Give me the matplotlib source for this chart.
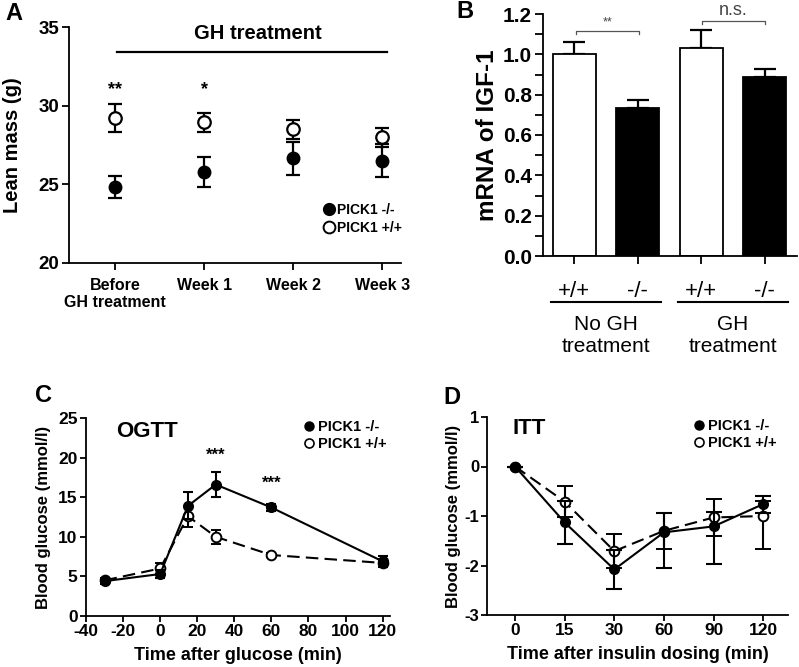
import matplotlib
matplotlib.use("Agg")
import matplotlib.pyplot as plt
from matplotlib.lines import Line2D
from matplotlib.ticker import MultipleLocator

plt.rcParams['font.family'] = ['Liberation Sans', 'DejaVu Sans']
plt.rcParams['font.weight'] = 'bold'
plt.rcParams['axes.labelweight'] = 'bold'
plt.rcParams['axes.unicode_minus'] = False
plt.rcParams['axes.linewidth'] = 1.3

# ---- data ----
# panel A: lean mass
a_labels = ["Before\nGH treatment", "Week 1", "Week 2", "Week 3"]
a_wt = [29.2, 28.95, 28.5, 28.0]
a_wt_err = [0.9, 0.6, 0.6, 0.6]
a_ko = [24.8, 25.8, 26.65, 26.5]
a_ko_err = [0.7, 0.95, 1.05, 1.05]
a_stars = ["**", "*", "", ""]

# panel B: IGF-1 mRNA
b_labels = ["+/+", "-/-", "+/+", "-/-"]
b_vals = [1.0, 0.735, 1.03, 0.89]
b_err = [0.06, 0.04, 0.09, 0.035]
b_colors = ["white", "black", "white", "black"]
b_groups = ["No GH\ntreatment", "GH\ntreatment"]

# panel C: OGTT
c_time = [-30, 0, 15, 30, 60, 120]
c_ko = [4.4, 5.3, 13.9, 16.6, 13.7, 6.9]
c_ko_err = [0.3, 0.5, 1.7, 1.6, 0.5, 0.7]
c_wt = [4.5, 6.0, 12.6, 10.0, 7.7, 6.7]
c_wt_err = [0.3, 0.7, 1.3, 0.9, 0.3, 0.5]

# panel D: ITT
d_labels = ["0", "15", "30", "60", "90", "120"]
d_ko = [0, -1.13, -2.08, -1.33, -1.21, -0.76]
d_ko_lo = [0, 0.44, 0.40, 0.73, 0.75, 0.17]
d_ko_hi = [0, 0.44, 0.40, 0.40, 0.30, 0.17]
d_wt = [0, -0.71, -1.71, -1.30, -1.03, -1.00]
d_wt_lo = [0, 0.31, 0.34, 0.37, 0.38, 0.67]
d_wt_hi = [0, 0.31, 0.34, 0.37, 0.38, 0.30]

W, H = 799, 667
fig = plt.figure(figsize=(W / 100, H / 100), dpi=100)


def px_axes(l, t, r, b):
    return fig.add_axes([l / W, 1 - b / H, (r - l) / W, (b - t) / H])


def style(ax):
    for s in ["top", "right"]:
        ax.spines[s].set_visible(False)
    ax.tick_params(direction="out", width=1.3, length=5)


# ---------------- A ----------------
ax = px_axes(69, 27, 401, 263)
style(ax)
xa = list(range(len(a_labels)))
ax.errorbar(xa, a_ko, yerr=a_ko_err, fmt="o", color="black", ms=9,
            capsize=4.7, elinewidth=1.6, capthick=1.6, zorder=3)
ax.errorbar(xa, a_wt, yerr=a_wt_err, fmt="o", color="black", mfc="white",
            mec="black", mew=1.6, ms=9, capsize=4.7, elinewidth=1.6,
            capthick=1.6, zorder=3)
for x, s in zip(xa, a_stars):
    ax.text(x, 31.0, s, ha="center", va="center", fontsize=13)
ax.plot([0.02, 3.05], [33.4, 33.4], color="black", lw=1.6, clip_on=False)
ax.text(1.6, 34.6, "GH treatment", ha="center", va="center", fontsize=14.5)
ax.set_xlim(-0.52, 3.21)
ax.set_ylim(20, 35)
ax.set_yticks([20, 25, 30, 35])
ax.set_xticks(xa)
ax.set_xticklabels(a_labels, fontsize=11.5, linespacing=1.15)
ax.tick_params(axis="y", labelsize=13.5, pad=2)
ax.tick_params(axis="x", pad=6)
ax.set_ylabel("Lean mass (g)", fontsize=14.5)
ax.yaxis.set_label_coords(-0.17, 0.5)
ax.yaxis.label.set_va("center")
ha = [Line2D([], [], marker="o", ls="", color="black", ms=8.5),
      Line2D([], [], marker="o", ls="", mfc="white", mec="black", mew=1.4, ms=8.5)]
ax.legend(ha, ["PICK1 -/-", "PICK1 +/+"], loc="upper left",
          bbox_to_anchor=(0.77, 0.255), frameon=False, fontsize=10,
          handlelength=0.6, handletextpad=0.3, borderpad=0, labelspacing=0.3,
          borderaxespad=0)
fig.text(14 / W, 1 - 13 / H, "A", fontsize=17, ha="center", va="center")

# ---------------- B ----------------
ax = px_axes(543, 14, 797, 256)
style(ax)
xb = list(range(len(b_vals)))
ax.bar(xb, b_vals, width=0.68, color=b_colors, edgecolor="black", lw=1.3,
       zorder=2)
ax.errorbar(xb, b_vals, yerr=[[0] * 4, b_err], fmt="none", ecolor="black",
            capsize=8, elinewidth=1.6, capthick=1.6, zorder=1)
ax.set_xlim(-0.49, 3.51)
ax.set_ylim(0, 1.2)
ax.yaxis.set_major_locator(MultipleLocator(0.2))
ax.yaxis.set_minor_locator(MultipleLocator(0.1))
ax.yaxis.set_major_formatter(plt.FormatStrFormatter("%.1f"))
ax.tick_params(axis="y", which="both", length=6, width=1.3, labelsize=15, pad=2)
ax.set_xticks(xb)
ax.set_xticklabels(b_labels, fontsize=16, fontweight="normal")
ax.tick_params(axis="x", length=6, pad=12)
ax.set_ylabel("mRNA of IGF-1", fontsize=17.5)
ax.yaxis.set_label_coords(-0.22, 0.5)
ax.yaxis.label.set_va("center")
tr = ax.get_xaxis_transform()
for gi, g in enumerate(b_groups):
    x0 = gi * 2
    ax.plot([x0 - 0.37, x0 + 1.37], [-0.19, -0.19], color="black", lw=1.5,
            transform=tr, clip_on=False)
    ax.text(x0 + 0.5, -0.33, g, transform=tr, ha="center", va="center",
            fontsize=15, fontweight="normal", linespacing=1.2)
# significance brackets
for (x0, x1, y, lab, fs) in [(0.03, 1.02, 1.116, "**", 9), (2.02, 3.0, 1.165, "n.s.", 13)]:
    ax.plot([x0, x0, x1, x1], [y - 0.015, y, y, y - 0.015], color="#555555",
            lw=0.9, clip_on=False)
    ax.text((x0 + x1) / 2, y + 0.012, lab, ha="center", va="bottom",
            fontsize=fs, fontweight="normal", color="#444444")
fig.text(465 / W, 1 - 11 / H, "B", fontsize=17, ha="center", va="center")

# ---------------- C ----------------
ax = px_axes(86, 418, 390, 616)
style(ax)
ax.errorbar(c_time, c_wt, yerr=c_wt_err, fmt="--o", color="black",
            mfc="white", mec="black", mew=1.4, ms=7, lw=1.5,
            dashes=(6, 3), capsize=3.8, elinewidth=1.5, capthick=1.5, zorder=3)
ax.errorbar(c_time, c_ko, yerr=c_ko_err, fmt="-o", color="black", ms=7,
            lw=1.5, capsize=3.8, elinewidth=1.5, capthick=1.5, zorder=4)
ax.text(30, 20.3, "***", ha="center", va="center", fontsize=12)
ax.text(60, 16.7, "***", ha="center", va="center", fontsize=12)
ax.text(-24, 23.3, "OGTT", ha="left", va="center", fontsize=16)
ax.set_xlim(-40, 124)
ax.set_ylim(0, 25)
ax.set_xticks(range(-40, 121, 20))
ax.set_yticks(range(0, 26, 5))
ax.tick_params(labelsize=12.5, length=4, pad=2)
ax.set_xlabel("Time after glucose (min)", fontsize=13)
ax.xaxis.set_label_coords(0.5, -0.2)
ax.xaxis.label.set_va("center")
ax.set_ylabel("Blood glucose (mmol/l)", fontsize=12)
ax.yaxis.set_label_coords(-0.14, 0.5)
ax.yaxis.label.set_va("center")
hc = [Line2D([], [], marker="o", ls="", color="black", ms=6.5),
      Line2D([], [], marker="o", ls="", mfc="white", mec="black", mew=1.2, ms=6.5)]
ax.legend(hc, ["PICK1 -/-", "PICK1 +/+"], loc="upper left",
          bbox_to_anchor=(0.72, 0.99), frameon=False, fontsize=10.5,
          handlelength=0.6, handletextpad=0.3, borderpad=0, labelspacing=0.2,
          borderaxespad=0)
fig.text(43 / W, 1 - 395 / H, "C", fontsize=17, ha="center", va="center")

# ---------------- D ----------------
ax = px_axes(487, 417, 788, 615)
style(ax)
xd = list(range(len(d_labels)))
ax.errorbar(xd, d_wt, yerr=[d_wt_lo, d_wt_hi], fmt="--o", color="black",
            mfc="white", mec="black", mew=1.4, ms=7, lw=1.5, dashes=(6, 3),
            capsize=5.5, elinewidth=1.5, capthick=1.5, zorder=3)
ax.errorbar(xd, d_ko, yerr=[d_ko_lo, d_ko_hi], fmt="-o", color="black",
            ms=7, lw=1.5, capsize=5.5, elinewidth=1.5, capthick=1.5, zorder=4)
ax.text(-0.05, 0.77, "ITT", ha="left", va="center", fontsize=16)
ax.set_xlim(-0.565, 5.5)
ax.set_ylim(-3, 1)
ax.set_yticks([-3, -2, -1, 0, 1])
ax.set_xticks(xd)
ax.set_xticklabels(d_labels)
ax.tick_params(labelsize=12.5, length=4, pad=2)
ax.tick_params(axis="y", labelsize=12, pad=1.5)
ax.set_xlabel("Time after insulin dosing (min)", fontsize=13)
ax.xaxis.set_label_coords(0.5, -0.2)
ax.xaxis.label.set_va("center")
ax.set_ylabel("Blood glucose (mmol/l)", fontsize=12)
ax.yaxis.set_label_coords(-0.112, 0.5)
ax.yaxis.label.set_va("center")
ax.legend(hc, ["PICK1 -/-", "PICK1 +/+"], loc="upper left",
          bbox_to_anchor=(0.69, 0.99), frameon=False, fontsize=10.5,
          handlelength=0.6, handletextpad=0.3, borderpad=0, labelspacing=0.2,
          borderaxespad=0)
fig.text(452 / W, 1 - 397 / H, "D", fontsize=17, ha="center", va="center")

fig.savefig("out.png", dpi=100)
